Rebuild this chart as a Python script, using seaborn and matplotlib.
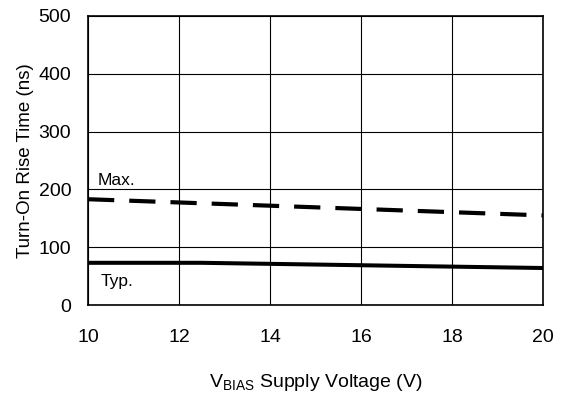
import matplotlib
matplotlib.use("Agg")
import matplotlib.pyplot as plt
import seaborn as sns
import pandas as pd

vbias = [10, 12.5, 15, 17.5, 20]
typ_ns = [73, 73, 70, 67, 64]
max_ns = [183, 176, 169, 162, 155]
x_ticks = [10, 12, 14, 16, 18, 20]
y_ticks = [0, 100, 200, 300, 400, 500]

sns.set_theme(style="white")
plt.rcParams['font.family'] = ['Liberation Sans', 'DejaVu Sans']

fig = plt.figure(figsize=(5.65, 3.96), dpi=100)
ax = fig.add_axes([88/565, 1-305/396, (543-88)/565, (305-16)/396])

df = pd.DataFrame({"v": vbias, "typ": typ_ns, "max": max_ns})
sns.lineplot(data=df, x="v", y="typ", ax=ax, color="black", lw=2.9)
sns.lineplot(data=df, x="v", y="max", ax=ax, color="black", lw=3.0, dashes=False)
ax.lines[-1].set_dashes([6.3, 3.6])

ax.set_xlim(10, 20)
ax.set_ylim(0, 500)
ax.set_xticks(x_ticks)
ax.set_yticks(y_ticks)
ax.grid(True, color="black", lw=0.8)
for s in ax.spines.values():
    s.set_color("black")
    s.set_linewidth(1.2)
ax.tick_params(axis="x", length=0, labelsize=14, colors="black", pad=17)
ax.tick_params(axis="y", direction="in", length=4, width=1.5, labelsize=14,
               colors="black", pad=12)

ax.set_xlabel(r"V$_{\mathregular{BIAS}}$ Supply Voltage (V)", fontsize=14, color="black", labelpad=19)
ax.set_ylabel("Turn-On Rise Time (ns)", fontsize=13.5, color="black", labelpad=3)

ax.text(10.22, 216, "Max.", fontsize=12.5, color="black", va="center", ha="left")
ax.text(10.27, 40, "Typ.", fontsize=12.5, color="black", va="center", ha="left")

fig.savefig("out.png", dpi=100)
